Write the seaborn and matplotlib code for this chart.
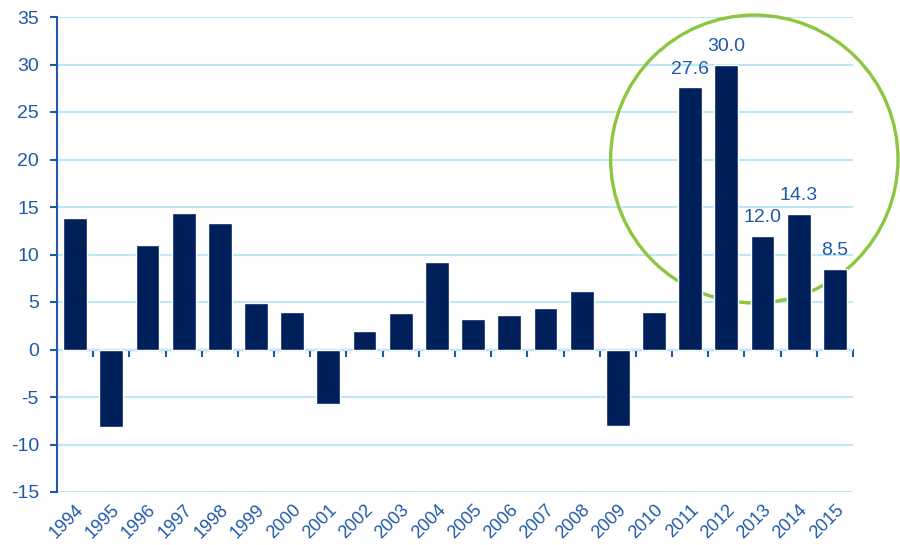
import matplotlib
matplotlib.use("Agg")
import matplotlib.pyplot as plt
import matplotlib.patches as mpatches
import seaborn as sns
import pandas as pd

# annual values
years = [str(y) for y in range(1994, 2016)]
values = [13.8, -8.2, 11.0, 14.4, 13.3, 4.9, 4.0, -5.7, 1.9, 3.8, 9.2,
          3.2, 3.6, 4.4, 6.2, -8.1, 4.0, 27.6, 30.0, 12.0, 14.3, 8.5]
labelled_years = ["2011", "2012", "2013", "2014", "2015"]
y_ticks = list(range(-15, 40, 5))

df = pd.DataFrame({"Year": years, "Value": values})

bar_col = "#00205B"
txt_col = "#1F5AA8"
grid_col = "#BDE6F7"

sns.set_theme(style="white")
plt.rcParams["font.family"] = ["Liberation Sans", "DejaVu Sans"]

fig = plt.figure(figsize=(9, 5.45), dpi=100)
ax = fig.add_axes([57 / 900, 1 - 492 / 545, 796 / 900, 475 / 545])

sns.barplot(data=df, x="Year", y="Value", color=bar_col, width=0.66,
            saturation=1, ax=ax, zorder=3)

ax.set_ylim(-15, 35)
ax.set_xlim(-0.5, len(years) - 0.5)
ax.set_yticks(y_ticks)
ax.set_yticklabels([str(t) for t in y_ticks])
ax.yaxis.grid(True, color=grid_col, lw=1.5, zorder=0)
ax.set_axisbelow(True)
ax.set_xlabel("")
ax.set_ylabel("")

for s in ["top", "right", "bottom"]:
    ax.spines[s].set_visible(False)
ax.spines["left"].set_color(txt_col)
ax.spines["left"].set_linewidth(1.5)
ax.tick_params(axis="y", colors=txt_col, labelsize=14, length=5, width=1.5,
               direction="out", left=True, pad=8)
ax.tick_params(axis="x", colors=txt_col, labelsize=13, length=0, pad=7)
for lab in ax.get_xticklabels():
    lab.set_rotation(45)
    lab.set_ha("right")
    lab.set_rotation_mode("anchor")

# zero axis with tick marks between categories
zero_ax = ax.secondary_xaxis(0, transform=ax.transData)
zero_ax.spines["bottom"].set_color(txt_col)
zero_ax.spines["bottom"].set_linewidth(1.5)
zero_ax.set_xticks([i - 0.5 for i in range(len(years) + 1)])
zero_ax.tick_params(axis="x", colors=txt_col, length=5, width=1.5,
                    direction="out", labelbottom=False)

# value labels on the highlighted years
bars = ax.containers[0]
for rect, yr, v in zip(bars, years, values):
    if yr in labelled_years:
        ax.annotate(f"{v:.1f}", (rect.get_x() + rect.get_width() / 2, v),
                    xytext=(0, 7), textcoords="offset points",
                    ha="center", va="bottom", color=txt_col, fontsize=14)

# green highlight circle
circ = mpatches.Ellipse((0.876, 0.701), 0.361, 0.606, transform=ax.transAxes,
                        fill=False, edgecolor="#8CC63F", lw=2.4,
                        clip_on=False, zorder=2)
ax.add_patch(circ)

fig.savefig("out.png", dpi=100)
